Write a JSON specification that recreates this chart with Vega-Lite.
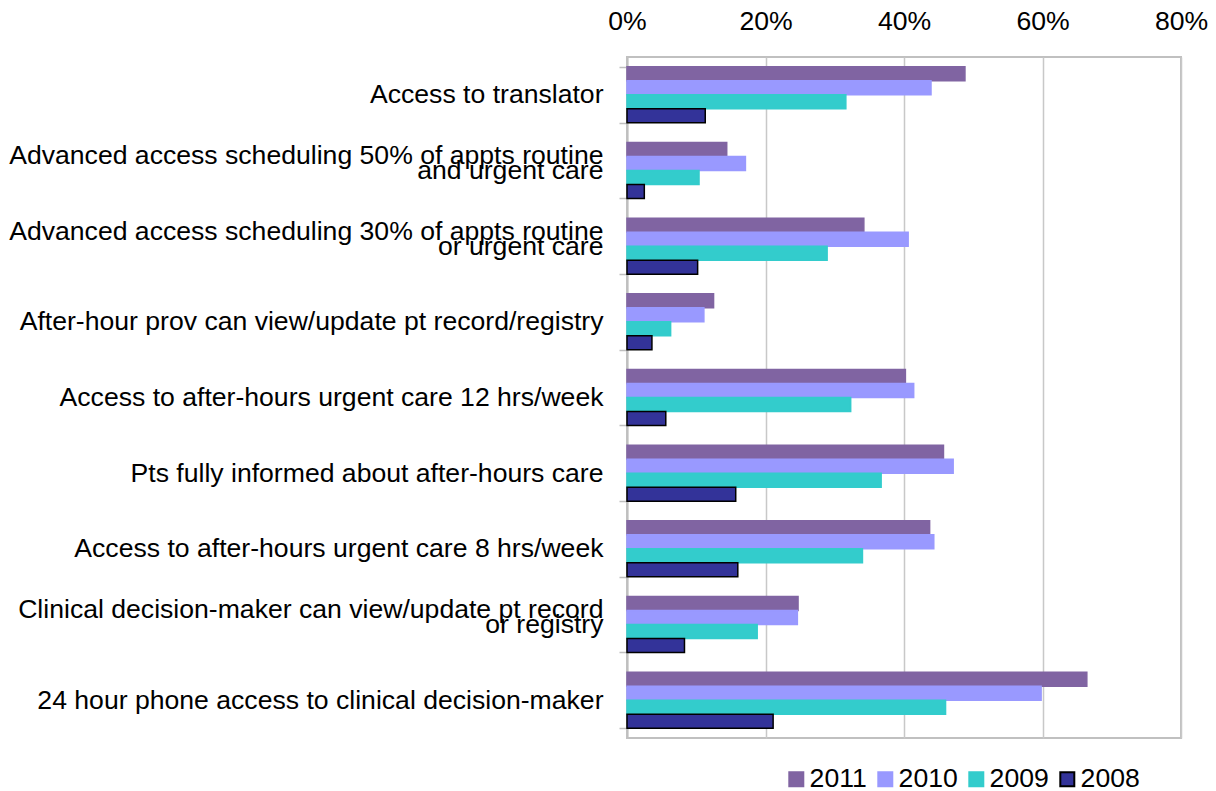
{
  "$schema": "https://vega.github.io/schema/vega-lite/v6.json",
  "width": 554,
  "height": 681,
  "autosize": {"type": "none"},
  "padding": {"left": 627, "top": 57, "right": 35, "bottom": 53},
  "background": "white",
  "config": {
    "font": "Liberation Sans",
    "view": {"stroke": "#C0C0C0", "strokeWidth": 2}
  },
  "datasets": {
    "rows": [
      {"measure": "Access to translator", "year": "2011", "value": 48.8},
      {"measure": "Access to translator", "year": "2010", "value": 43.9},
      {"measure": "Access to translator", "year": "2009", "value": 31.6},
      {"measure": "Access to translator", "year": "2008", "value": 11.3},
      {"measure": "Advanced access scheduling 50% of appts routine|and urgent care", "year": "2011", "value": 14.4},
      {"measure": "Advanced access scheduling 50% of appts routine|and urgent care", "year": "2010", "value": 17.1},
      {"measure": "Advanced access scheduling 50% of appts routine|and urgent care", "year": "2009", "value": 10.4},
      {"measure": "Advanced access scheduling 50% of appts routine|and urgent care", "year": "2008", "value": 2.5},
      {"measure": "Advanced access scheduling 30% of appts routine|or urgent care", "year": "2011", "value": 34.2},
      {"measure": "Advanced access scheduling 30% of appts routine|or urgent care", "year": "2010", "value": 40.6},
      {"measure": "Advanced access scheduling 30% of appts routine|or urgent care", "year": "2009", "value": 28.9},
      {"measure": "Advanced access scheduling 30% of appts routine|or urgent care", "year": "2008", "value": 10.2},
      {"measure": "After-hour prov can view/update pt record/registry", "year": "2011", "value": 12.5},
      {"measure": "After-hour prov can view/update pt record/registry", "year": "2010", "value": 11.1},
      {"measure": "After-hour prov can view/update pt record/registry", "year": "2009", "value": 6.3},
      {"measure": "After-hour prov can view/update pt record/registry", "year": "2008", "value": 3.6},
      {"measure": "Access to after-hours urgent care 12 hrs/week", "year": "2011", "value": 40.2},
      {"measure": "Access to after-hours urgent care 12 hrs/week", "year": "2010", "value": 41.4},
      {"measure": "Access to after-hours urgent care 12 hrs/week", "year": "2009", "value": 32.3},
      {"measure": "Access to after-hours urgent care 12 hrs/week", "year": "2008", "value": 5.6},
      {"measure": "Pts fully informed about after-hours care", "year": "2011", "value": 45.7},
      {"measure": "Pts fully informed about after-hours care", "year": "2010", "value": 47.1},
      {"measure": "Pts fully informed about after-hours care", "year": "2009", "value": 36.7},
      {"measure": "Pts fully informed about after-hours care", "year": "2008", "value": 15.7},
      {"measure": "Access to after-hours urgent care 8 hrs/week", "year": "2011", "value": 43.7},
      {"measure": "Access to after-hours urgent care 8 hrs/week", "year": "2010", "value": 44.3},
      {"measure": "Access to after-hours urgent care 8 hrs/week", "year": "2009", "value": 34.0},
      {"measure": "Access to after-hours urgent care 8 hrs/week", "year": "2008", "value": 16.0},
      {"measure": "Clinical decision-maker can view/update pt record|or registry", "year": "2011", "value": 24.7},
      {"measure": "Clinical decision-maker can view/update pt record|or registry", "year": "2010", "value": 24.6},
      {"measure": "Clinical decision-maker can view/update pt record|or registry", "year": "2009", "value": 18.8},
      {"measure": "Clinical decision-maker can view/update pt record|or registry", "year": "2008", "value": 8.3},
      {"measure": "24 hour phone access to clinical decision-maker", "year": "2011", "value": 66.4},
      {"measure": "24 hour phone access to clinical decision-maker", "year": "2010", "value": 59.8},
      {"measure": "24 hour phone access to clinical decision-maker", "year": "2009", "value": 46.0},
      {"measure": "24 hour phone access to clinical decision-maker", "year": "2008", "value": 21.1}
    ]
  },
  "data": {"name": "rows"},
  "mark": {"type": "bar", "strokeWidth": 1.5},
  "encoding": {
    "y": {
      "field": "measure",
      "type": "nominal",
      "sort": null,
      "scale": {"paddingInner": 0.26, "paddingOuter": 0.13},
      "axis": {
        "title": null,
        "labelExpr": "indexof(datum.label, '|') >= 0 ? [split(datum.label, '|')[0], '', split(datum.label, '|')[1]] : ['', datum.label]",
        "labelFontSize": 26.6,
        "labelColor": "#000000",
        "labelLineHeight": 15,
        "labelOffset": -15,
        "labelPadding": 16,
        "labelLimit": 700,
        "tickBand": "extent",
        "tickSize": 8,
        "tickColor": "#BFBFBF",
        "tickWidth": 1.5,
        "domainColor": "#BFBFBF",
        "domainWidth": 2
      }
    },
    "yOffset": {
      "field": "year",
      "type": "nominal",
      "sort": ["2011", "2010", "2009", "2008"]
    },
    "x": {
      "field": "value",
      "type": "quantitative",
      "scale": {"domain": [0, 80]},
      "axis": {
        "orient": "top",
        "title": null,
        "values": [0, 20, 40, 60, 80],
        "labelExpr": "datum.value + '%'",
        "labelFontSize": 26.6,
        "labelColor": "#000000",
        "labelPadding": 22,
        "labelFlush": false,
        "labelOverlap": false,
        "ticks": false,
        "domain": false,
        "grid": true,
        "gridColor": "#C8C8C8",
        "gridWidth": 1.5
      }
    },
    "color": {
      "field": "year",
      "type": "nominal",
      "scale": {
        "domain": ["2011", "2010", "2009", "2008"],
        "range": ["#8064A2", "#9999FF", "#33CCCC", "#333399"]
      },
      "legend": {
        "title": null,
        "orient": "none",
        "direction": "horizontal",
        "legendX": 156,
        "legendY": 709,
        "padding": 0,
        "symbolType": "square",
        "symbolSize": 196,
        "symbolStrokeWidth": 2,
        "labelFontSize": 26.6,
        "labelColor": "#000000",
        "labelOffset": 0,
        "columnPadding": 5
      }
    },
    "stroke": {
      "field": "year",
      "type": "nominal",
      "scale": {
        "domain": ["2011", "2010", "2009", "2008"],
        "range": ["#8064A2", "#9999FF", "#33CCCC", "#000000"]
      },
      "legend": null
    }
  }
}
